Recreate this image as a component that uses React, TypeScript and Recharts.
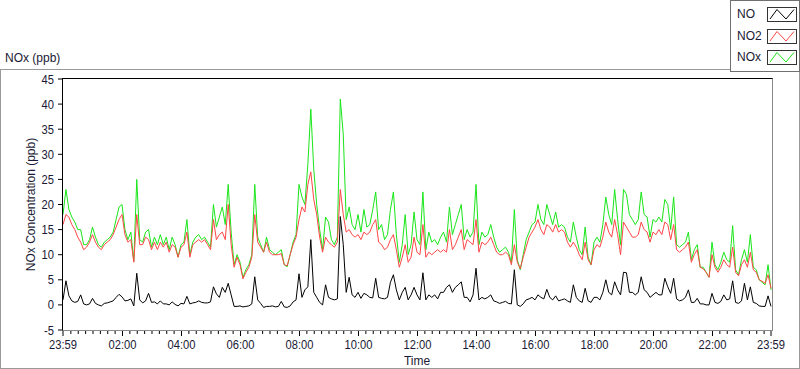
import React from "react";
import { LineChart, Line, XAxis, YAxis } from "recharts";

// one sample every 6 minutes, starting at 23:59
const STEP_MIN = 6;

const NOX = [
  18, 23, 19, 17.5, 16.5, 15, 15, 12, 12, 13,
  15.5, 13.5, 12, 11.5, 12.5, 13, 13.5, 14.5, 17, 19.5,
  20, 15, 13, 14.5, 8.7, 25, 13, 12.5, 14.5, 15,
  11.5, 13.5, 12, 14, 12, 13.5, 11, 13.5, 12, 9.5,
  12, 12.5, 17, 10, 12.5, 13.5, 14, 13, 13.5, 12.5,
  11.5, 20, 15.5, 17.5, 19.5, 16, 24, 14.5, 8, 10,
  8.5, 5.5, 7, 8, 10, 24, 13.5, 12, 10.5, 13.5,
  11, 10.5, 10, 10.5, 11, 8, 7.6, 10, 12.5, 14,
  24, 21.5, 20, 28, 39, 27, 20, 15, 11, 17.5,
  16.5, 13, 12, 13.5, 41, 34, 17, 19.5, 16, 15,
  18, 14.5, 19, 15.5, 16, 19, 22.5, 15, 16, 13,
  14, 19, 22.5, 14, 8.5, 12, 18, 10, 12, 18.5,
  13, 12, 22.5, 11, 14.5, 12.5, 13, 12, 13.5, 14.5,
  12.5, 19.5, 14, 16, 18, 20, 13, 15, 13.5, 14.5,
  24, 12, 14.5, 13.5, 14, 16, 13.5, 11.5, 10.5, 11,
  11.5, 10.5, 8.5, 19, 9, 7, 10, 13, 14.5, 16,
  16.5, 20, 17, 16, 20, 18, 16, 18.5, 15.5, 16,
  15.5, 13.5, 12.5, 16.5, 13.5, 11, 10, 15.5, 9.5, 8,
  12.5, 13.5, 12.5, 16, 21.5, 18, 16, 23, 17, 12,
  23, 22, 18, 17, 16, 17, 22.5, 18, 17.5, 13.5,
  17, 16.5, 17.5, 16.5, 21, 20, 15, 21.5, 12, 11.5,
  12, 12.5, 14.5, 9, 11, 12, 7.5, 7.5, 6.5, 5.5,
  12.5, 8, 7, 8.5, 10.5, 9, 8.5, 15.8, 7, 6,
  9, 11, 8.5, 14, 7.5, 7, 5, 4.5, 4, 8,
  3,
];

const NO2 = [
  16, 18, 17.5, 16, 15, 13.5, 12.5, 11, 11.5, 12.5,
  14, 12.5, 11.5, 11, 12, 12.5, 13, 14, 15.5, 17,
  18, 14, 12.5, 13, 8.5, 18, 12, 12, 13.5, 13,
  11, 12.5, 11, 12.5, 11.5, 12.5, 10.5, 12, 11.5, 9.5,
  11.5, 12, 14.5, 9.5, 12, 12.5, 13, 12.5, 13, 12,
  11, 17, 13, 14, 14.5, 13, 20, 12, 7.5, 9.5,
  8, 5.2, 6.5, 7.5, 9.5, 18, 12.5, 11.5, 10.5, 12.5,
  10.5, 10, 10, 10, 10.2, 8, 7.8, 10, 12, 13.5,
  17, 19.5, 18.5, 24, 26.5, 21, 18, 13.5, 10.5, 13.5,
  12.5, 12, 11.5, 12.5, 23, 18, 14.5, 15, 14, 13.5,
  14, 13, 14.5, 14, 14.5, 16, 17, 12.5, 12, 11,
  11.5, 13, 14, 11, 7.5, 9.5, 12, 8.5, 9.5, 13.5,
  10.5, 10, 16, 9.5, 10.5, 10, 10.5, 11, 10.5, 11,
  10.5, 15, 11, 12, 13.5, 15, 11, 13, 12.5, 12,
  17, 10.5, 12.5, 12, 12.5, 13.5, 12, 10.5, 10, 10,
  10.5, 10, 8, 12, 8.5, 7.2, 9.5, 11.5, 13.5, 14.5,
  15.5, 17, 15, 14, 16, 15.5, 14.5, 16, 14.5, 15,
  14.5, 12.5, 11.5, 12.5, 11.5, 10, 9, 12.5, 9, 8,
  11, 12, 11.5, 13.5, 16.5, 14.5, 13.5, 17, 14, 10,
  16.5, 15.5, 14.5, 13.5, 13.5, 14, 16.5, 15, 14.5, 12.5,
  14.5, 14, 15, 14, 16.5, 16, 13, 16, 11, 10.5,
  11, 11.5, 12.5, 8.5, 10, 11, 7.5, 7.2, 6.5, 5.5,
  10, 7.5, 6.5, 7.5, 9, 8, 7.5, 11.5, 6.5, 5.8,
  8, 9, 7.5, 10.5, 7, 6.5, 5, 4.7, 4.3, 6,
  3.3,
];

const NO = [
  1, 4.8, 1.8, 0.8, 0.5, 0.7, 2, 0.2, 0, 0.2,
  1.3, 0.3, 0, -0.2, 0.3, 0.4, 0.6, 0.8, 1.5, 2.1,
  1.6, 0.8, 0.9, 1.2, -0.2, 6.3, 1, 0.4, 0.8, 2.3,
  0.5, 0.6, 0.2, 0.8, 0.2, 0.2, 0, 0.6, 0.1, -0.2,
  0.3, 0.2, 1.7, 0.2, 0.4, 0.5, 0.8, 0.5, 0.4, 0.4,
  0.6, 3.6, 2.2, 1.5, 3.5, 2.5, 4.3, 2, -0.3, -0.3,
  -0.2, -0.4, -0.3, -0.2, 0.2, 5.6, 1, 0.3, -0.5, -0.3,
  -0.3, -0.2, -0.4, -0.3, 0.7, -0.4, -0.5, -0.2, 0.6, 1,
  6.2, 1.5, 3, 3.6, 13, 2.5, 1.5, 0.5, 0, 4,
  1.5, 1.2, 1, 1.2, 17.6, 12, 2.5, 5.5, 2, 1.5,
  2.5, 1.3, 2.3, 2, 1.5, 1.4, 5.3, 1.5, 1.3, 1.2,
  1.5, 4.5, 6, 3, 1, 2.5, 3.5, 1, 2, 3.5,
  2, 1, 6.4, 1, 2, 1.5, 2, 1.2, 2.5, 2.5,
  3.5, 4, 2.5, 3.5, 4, 4.6, 1.5, 1.5, 0.6, 2,
  7.3, 1, 1.5, 1.2, 1.5, 2, 0.8, 0.6, 0.3, 0.5,
  0.7, 0.3, 0.2, 7, 0, -0.3, 0.2, 1, 1.2, 1.5,
  1, 2, 1.5, 1.2, 3.1, 1.5, 1, 1.8, 0.8, 1,
  1.2, 0.8, 0.5, 4, 1.5, 0.8, 0.5, 3.3, 0.8, 0.5,
  1.5, 1.5, 1, 2.5, 5, 2.5, 2, 4.6, 3, 2,
  6.5, 6.4, 2.5, 2.5, 2, 2.5, 5.6, 3, 2.5, 1.5,
  2, 2.5, 2, 2, 5.3, 3.6, 2.3, 5.3, 1.2, 0.8,
  1, 1.5, 3, 0.5, 0.5, 1.3, 0.2, 0.2, 0, 0,
  2.3, 0.5, 0.3, 0.7, 2, 1, 1.2, 4.8, 0.5, 0.3,
  0.8, 4.3, 1, 3.6, 0.5, 0.3, -0.2, -0.3, -0.3, 1.8,
  -0.3,
];

// minutes after 23:59 for the labelled ticks
const MAJOR_TICKS = [0, 121, 241, 361, 481, 601, 721, 841, 961, 1081, 1201, 1321, 1440];
const MAJOR_LABELS = ["23:59", "02:00", "04:00", "06:00", "08:00", "10:00", "12:00", "14:00", "16:00", "18:00", "20:00", "22:00", "23:59"];
const Y_TICKS = [-5, 0, 5, 10, 15, 20, 25, 30, 35, 40, 45];

const LEGEND = [
  { name: "NO", color: "#000000" },
  { name: "NO2", color: "#ff4646" },
  { name: "NOx", color: "#19e619" },
];

const TEXT = "#1a1a34";
const FONT = "'Liberation Sans', Arial, sans-serif";
const SQUEEZE = 0.86; // tick font is narrower than Liberation Sans

const rows = NOX.map((v, i) => ({ t: i * STEP_MIN, nox: v, no2: NO2[i], no: NO[i] }));

// minor ticks every 15 min on the clock
const minorTicks: number[] = [];
for (let k = 1; k * 15 + 1 < 1440; k++) {
  if (k % 8 !== 0) minorTicks.push(k * 15 + 1);
}
const allTicks = [...MAJOR_TICKS, ...minorTicks].sort((a, b) => a - b);

function TimeTick(props: any) {
  const { x, y, payload } = props;
  const idx = MAJOR_TICKS.indexOf(payload.value);
  const major = idx >= 0;
  return (
    <g>
      <line x1={x} x2={x} y1={y} y2={y + (major ? 6 : 4)} stroke="#000" strokeWidth={1} />
      {major && (
        <text
          transform={`translate(${x},${y + 19}) scale(${SQUEEZE},1)`}
          textAnchor="middle"
          fontSize={13}
          fontFamily={FONT}
          fill={TEXT}
        >
          {MAJOR_LABELS[idx]}
        </text>
      )}
    </g>
  );
}

function ValueTick(props: any) {
  const { x, y, payload } = props;
  return (
    <text
      transform={`translate(${x},${y + 4.5}) scale(${SQUEEZE},1)`}
      textAnchor="end"
      fontSize={13}
      fontFamily={FONT}
      fill={TEXT}
    >
      {payload.value}
    </text>
  );
}

function Swatch({ color }: { color: string }) {
  return (
    <svg width={30} height={15} style={{ display: "block" }}>
      <rect x={0.5} y={0.5} width={29} height={14} fill="#fff" stroke="#333" />
      <polyline points="3,12 10,2.5 19,12 27,2.5" fill="none" stroke={color} strokeWidth={1} />
    </svg>
  );
}

export default function App() {
  return (
    <div style={{ position: "absolute", left: 0, top: 0, width: 800, height: 369, background: "#fff", fontFamily: FONT, color: TEXT }}>
      <div style={{ position: "absolute", left: 0, top: 69, width: 800, height: 300, border: "1px solid #9a9a9a", boxSizing: "border-box" }} />
      <div style={{ position: "absolute", left: 5, top: 51, fontSize: 12, lineHeight: "14px" }}>NOx (ppb)</div>

      <div style={{ position: "absolute", left: 0, top: 0 }}>
        <LineChart width={800} height={369} data={rows} margin={{ top: 79, right: 29, left: 23, bottom: 9 }}>
          <XAxis
            dataKey="t"
            type="number"
            domain={[0, 1440]}
            ticks={allTicks}
            interval={0}
            tick={(p: any) => <TimeTick {...p} />}
            tickLine={false}
            axisLine={false}
            tickSize={0}
            tickMargin={0}
            height={30}
          />
          <YAxis
            type="number"
            domain={[-5, 45]}
            ticks={Y_TICKS}
            interval={0}
            width={40}
            axisLine={false}
            tickLine={{ stroke: "#000" }}
            tickSize={5}
            tickMargin={4}
            tick={(p: any) => <ValueTick {...p} />}
            label={{
              value: "NOx Concentration (ppb)",
              angle: -90,
              position: "insideLeft",
              offset: 8,
              style: { fontSize: 12, fontFamily: FONT, fill: TEXT, textAnchor: "middle" },
            }}
          />
          <Line type="linear" dataKey="nox" stroke="#19e619" strokeWidth={1} dot={false} isAnimationActive={false} />
          <Line type="linear" dataKey="no2" stroke="#ff4646" strokeWidth={1} dot={false} isAnimationActive={false} />
          <Line type="linear" dataKey="no" stroke="#000000" strokeWidth={1} dot={false} isAnimationActive={false} />
        </LineChart>
      </div>

      {/* plot frame */}
      <div
        style={{
          position: "absolute",
          left: 62,
          top: 78,
          width: 711,
          height: 253,
          boxSizing: "border-box",
          borderTop: "1px solid #000",
          borderLeft: "1px solid #000",
          borderRight: "1px solid #8a8a8a",
          borderBottom: "1px solid #8a8a8a",
          pointerEvents: "none",
        }}
      />

      <div style={{ position: "absolute", left: 63, width: 708, top: 354, textAlign: "center", fontSize: 12, lineHeight: "14px" }}>Time</div>

      {/* legend */}
      <div style={{ position: "absolute", left: 730, top: 0, width: 70, height: 72, border: "1px solid #707070", boxSizing: "border-box", background: "#fff" }}>
        {LEGEND.map((s, k) => (
          <div key={s.name} style={{ position: "absolute", left: 6, top: 6 + k * 21.5, height: 15, width: 62 }}>
            <span style={{ position: "absolute", left: 0, top: 0, fontSize: 12, lineHeight: "15px" }}>{s.name}</span>
            <div style={{ position: "absolute", left: 30, top: 0 }}>
              <Swatch color={s.color} />
            </div>
          </div>
        ))}
      </div>
    </div>
  );
}
